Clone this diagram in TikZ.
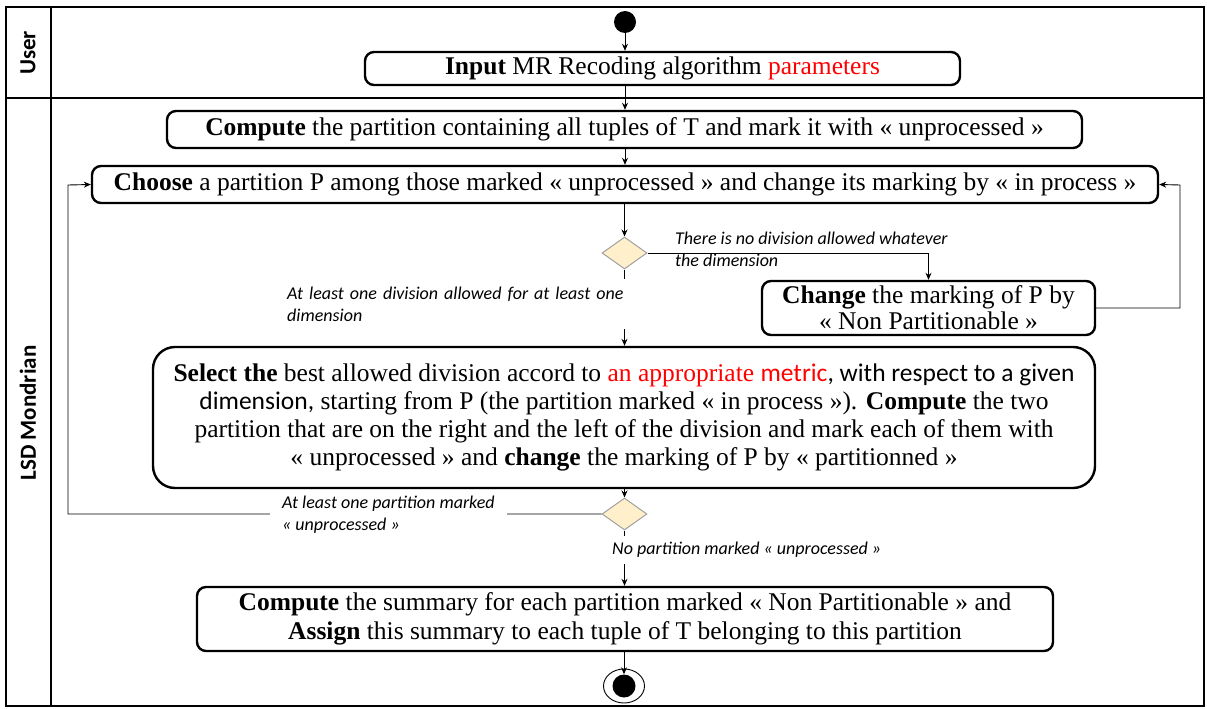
\documentclass[tikz,border=0pt]{standalone}
\usepackage{fontspec}
\setmainfont{Liberation Serif}
\newfontfamily\calib{Carlito}
\usetikzlibrary{arrows.meta,shapes.geometric}
\definecolor{dfill}{HTML}{FFEFCB}
\definecolor{dline}{HTML}{A0A0A0}
\begin{document}
\begin{tikzpicture}[x=1pt,y=-1pt,
  act/.style={draw, line width=2.4pt, rounded corners=9pt, inner sep=0pt, align=center,
    font=\fontsize{25.5}{28}\selectfont},
  dec/.style={diamond, draw=dline, fill=dfill, line width=1pt, minimum width=45pt,
    minimum height=32pt, inner sep=0pt},
  flow/.style={-{Stealth[length=7pt,width=6pt]}, line width=0.9pt},
  lbl/.style={font=\calib\itshape\fontsize{18}{22}\selectfont, align=left, inner sep=0pt},
  lane/.style={line width=1.4pt},
  lanetxt/.style={font=\calib\bfseries\fontsize{23}{24}\selectfont, rotate=90}
]
\useasboundingbox (0,0) rectangle (1207,709);
% swimlanes
\draw[lane] (6,7) rectangle (1204,706);
\draw[lane] (51,7) -- (51,706);
\draw[lane] (6,98) -- (1204,98);
\node[lanetxt] (lu) at (28,53) {User};
\node[lanetxt] (ll) at (28,413) {LSD Mondrian};

% nodes
\node[circle, fill, minimum size=22pt, inner sep=0pt] (start) at (625,22) {};
\node[act, minimum width=595pt, minimum height=33pt] (input) at (662.5,68.5)
  {\textbf{Input} MR Recoding algorithm \textcolor{red}{parameters}};
\node[act, minimum width=915pt, minimum height=37pt] (comp) at (624.5,129.5)
  {\textbf{Compute} the partition containing all tuples of T and mark it with « unprocessed »};
\node[act, minimum width=1066pt, minimum height=37pt] (choose) at (625,184.5)
  {\textbf{Choose} a partition P among those marked « unprocessed » and change its marking by « in process »};
\node[dec] (d1) at (624.5,253) {};
\node[act, minimum width=333pt, minimum height=54pt, font=\fontsize{25.5}{26}\selectfont] (change) at (928.5,308)
  {\textbf{Change} the marking of P by\\« Non Partitionable »};
\node[act, rounded corners=22pt, minimum width=942pt, minimum height=141pt] (select) at (624,417.5)
  {\textbf{Select the} best allowed division accord to \textcolor{red}{an appropriate {\calib metric}}{\calib, with respect to a given}\\
   {\calib dimension,} starting from P (the partition marked « in process »). \textbf{Compute} the two\\
   partition that are on the right and the left of the division and mark each of them with\\
   « unprocessed » and \textbf{change} the marking of P by « partitionned »};
\node[dec] (d2) at (624.5,514) {};
\node[act, minimum width=856pt, minimum height=64pt, font=\fontsize{25.5}{29}\selectfont] (final) at (625,619)
  {\textbf{Compute} the summary for each partition marked « Non Partitionable » and\\
   \textbf{Assign} this summary to each tuple of T belonging to this partition};
\node[ellipse, draw, line width=0.9pt, minimum width=41pt, minimum height=34pt, inner sep=0pt] (endo) at (624,686) {};
\node[circle, fill, minimum size=23pt, inner sep=0pt] (endi) at (624,686) {};

\coordinate (rl) at (1180,308);
\coordinate (rt) at (1180,185);
\coordinate (ll1) at (68,514);
\coordinate (ll2) at (68,185);

% connectors
\draw[flow] (start) -- (input.north -| start);
\draw[flow] (input.south -| start) -- (comp.north -| start);
\draw[flow] (comp.south -| start) -- (choose.north -| start);
\draw[flow] (choose.south -| d1) -- (d1.north);
\draw[flow] (d1.east) -| (change.north);
\draw[flow] (change.east) -- (rl) -- (rt) -- (choose.east);
\draw[flow] (d1.south) -- (select.north -| d1);
\draw[flow] (select.south -| d2) -- (d2.north);
\draw[flow] (d2.west) -- (ll1) -- (ll2) -- (choose.west);
\draw[flow] (d2.south) -- (final.north -| d2);
\draw[flow] (final.south -| endi) -- (endi.north);

% labels
\node[lbl, anchor=north west] (t1) at (675,232)
  {There is no division allowed whatever\\the dimension};
\node[lbl, anchor=north west, fill=white, inner sep=4pt, text width=340pt, minimum height=50pt] (t2) at (283,279)
  {At least one division allowed for at least one\\dimension};
\node[lbl, anchor=north west, fill=white, inner xsep=12pt, inner ysep=2pt] (t3) at (270,494)
  {At least one partition marked\\« unprocessed »};
\node[lbl, anchor=north west, fill=white, inner xsep=0pt, inner ysep=6pt] (t4) at (612,536)
  {No partition marked « unprocessed »};
\end{tikzpicture}
\end{document}
